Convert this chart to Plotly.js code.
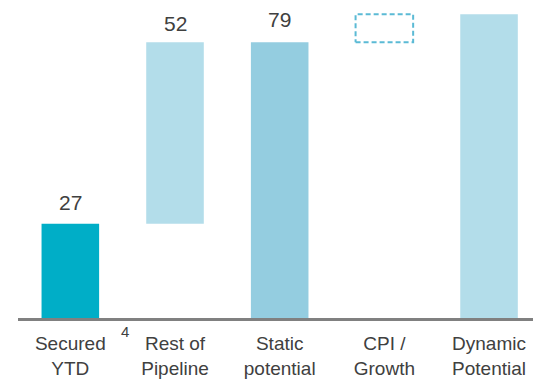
<!DOCTYPE html>
<html>
<head>
<meta charset="utf-8">
<script src="https://cdn.plot.ly/plotly-3.0.1.min.js"></script>
<style>
  html, body { margin: 0; padding: 0; background: #ffffff; }
  #chart { width: 533px; height: 379px; }
</style>
</head>
<body>
<div id="chart"></div>
<script>
// ---- data ----
const categories = ['Secured<br>YTD', 'Rest of<br>Pipeline', 'Static<br>potential', 'CPI /<br>Growth', 'Dynamic<br>Potential'];
const values = [27, 52, 79, 8, 87];
const bases = [0, 27, 0, 79, 0];
const valueLabels = ['27', '52', '79', '', ''];
const footnote = '4';

// ---- styles ----
const barColors = ['#00AEC7', '#B3DDEA', '#94CDE0', 'rgba(0,0,0,0)', '#B3DDEA'];
const dashedIndex = 3;
const barWidth = 0.55;
const labelShift = [8, 5, 9];

const xs = categories.map((_, i) => i);

const barTrace = {
  type: 'bar',
  x: xs,
  y: values.map((v, i) => i === dashedIndex ? 0 : v),
  base: bases.map((b, i) => i === dashedIndex ? 0 : b),
  width: barWidth,
  marker: { color: barColors, line: { width: 0 } },
  hoverinfo: 'skip',
  showlegend: false
};

// dashed outline box for the CPI / Growth step, computed from data
const d = dashedIndex;
const x0 = d - barWidth / 2, x1 = d + barWidth / 2;
const y0 = bases[d], y1 = bases[d] + values[d];
const dashTrace = {
  type: 'scatter',
  mode: 'lines',
  x: [x0, x1, x1, x0, x0],
  y: [y0, y0, y1, y1, y0],
  line: { color: '#5BBAD5', width: 2, dash: '5px,3px' },
  hoverinfo: 'skip',
  showlegend: false
};

const annotations = [];
valueLabels.forEach((t, i) => {
  if (!t) return;
  annotations.push({
    x: i, y: bases[i] + values[i], xref: 'x', yref: 'y',
    text: t, showarrow: false, yanchor: 'bottom', yshift: labelShift[i] || 4,
    font: { family: 'Liberation Sans, Arial, sans-serif', size: 21, color: '#404040' }
  });
});
annotations.push({
  x: 0.52, y: -0.042, xref: 'x', yref: 'paper',
  text: footnote, showarrow: false, xanchor: 'center', yanchor: 'middle',
  font: { family: 'Liberation Sans, Arial, sans-serif', size: 15, color: '#404040' }
});

const layout = {
  width: 533, height: 379,
  margin: { l: 18, r: 0, t: 0, b: 61, pad: 0 },
  paper_bgcolor: '#ffffff', plot_bgcolor: '#ffffff',
  showlegend: false,
  xaxis: {
    range: [-0.5, 4.42],
    tickvals: xs, ticktext: categories,
    showline: true, linecolor: '#808080', linewidth: 3,
    showgrid: false, zeroline: false, ticks: '',
    ticklabelstandoff: 6,
    tickfont: { family: 'Liberation Sans, Arial, sans-serif', size: 19, color: '#404040' },
    fixedrange: true
  },
  yaxis: {
    range: [0, 91.1],
    visible: false, showgrid: false, zeroline: false, fixedrange: true
  },
  annotations: annotations
};

Plotly.newPlot('chart', [barTrace, dashTrace], layout, { staticPlot: true, displayModeBar: false });
</script>
</body>
</html>
